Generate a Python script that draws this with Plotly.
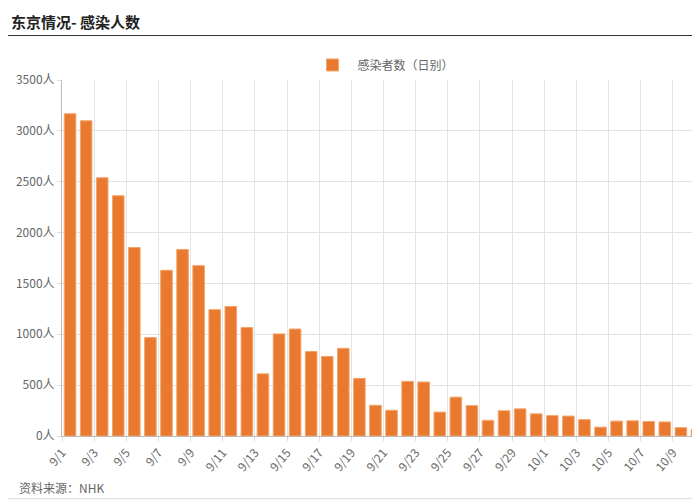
import plotly.graph_objects as go

dates = ['9/1', '9/2', '9/3', '9/4', '9/5', '9/6', '9/7', '9/8', '9/9', '9/10',
         '9/11', '9/12', '9/13', '9/14', '9/15', '9/16', '9/17', '9/18', '9/19', '9/20',
         '9/21', '9/22', '9/23', '9/24', '9/25', '9/26', '9/27', '9/28', '9/29', '9/30',
         '10/1', '10/2', '10/3', '10/4', '10/5', '10/6', '10/7', '10/8', '10/9', '10/10']
cases = [3168, 3099, 2539, 2362, 1853, 968, 1629, 1834, 1675, 1242,
         1273, 1067, 611, 1004, 1052, 831, 782, 862, 566, 302,
         253, 537, 531, 235, 382, 299, 154, 248, 267, 218,
         200, 196, 161, 87, 146, 149, 143, 138, 82, 62]
y_ticks = [0, 500, 1000, 1500, 2000, 2500, 3000, 3500]

# bars sit between grid lines, labels on the grid lines
xpos = [i + 0.5 for i in range(len(dates))]
tickvals = list(range(0, len(dates), 2))
ticktext = [dates[i] for i in tickvals]

fig = go.Figure()
fig.add_trace(go.Bar(
    x=xpos, y=cases, name='感染者数（日别）',
    marker=dict(color='#E8792E', line=dict(color='#F3A46A', width=1)),
    width=0.72,
))

fig.update_layout(
    width=700, height=500,
    margin=dict(l=54, r=3, t=72, b=72, autoexpand=False),
    paper_bgcolor='white', plot_bgcolor='white',
    font=dict(family='Noto Sans CJK SC, Noto Sans, sans-serif', size=12, color='#666'),
    showlegend=True,
    legend=dict(orientation='h', x=0.5, xanchor='center', y=0.886, yanchor='middle',
                yref='container', font=dict(size=12, color='#666'),
                itemwidth=40),
    xaxis=dict(range=[0, 40], tickvals=tickvals, ticktext=ticktext, tickangle=-50,
               showgrid=True, gridcolor='#e3e3e3', zeroline=False,
               showline=True, linecolor='#bbb', ticks='outside', ticklen=4, tickcolor='#ddd'),
    yaxis=dict(range=[0, 3500], tickvals=y_ticks, ticktext=[f'{v}人' for v in y_ticks],
               showgrid=True, gridcolor='#e3e3e3', zeroline=False,
               showline=True, linecolor='#bbb', ticks='outside', ticklen=4, tickcolor='#ddd'),
    annotations=[
        dict(text='<b>东京情况- 感染人数</b>', xref='paper', yref='paper', x=-0.082, y=1.165,
             xanchor='left', yanchor='middle', showarrow=False, font=dict(size=15, color='#222')),
        dict(text='资料来源：NHK', xref='paper', yref='paper', x=-0.07, y=-0.145,
             xanchor='left', yanchor='middle', showarrow=False, font=dict(size=12, color='#666')),
    ],
    shapes=[
        dict(type='line', xref='paper', yref='paper', x0=-0.09, x1=1.01, y0=1.125, y1=1.125,
             line=dict(color='#333', width=1)),
        dict(type='line', xref='paper', yref='paper', x0=-0.09, x1=1.01, y0=-0.176, y1=-0.176,
             line=dict(color='#ddd', width=1)),
    ],
)

fig.write_html("out.html")
